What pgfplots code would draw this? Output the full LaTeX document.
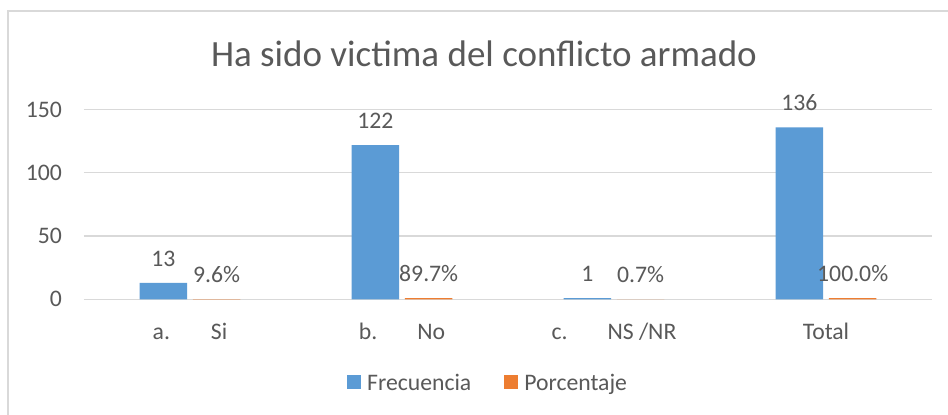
\documentclass[border=0pt]{standalone}
\usepackage{fontspec}
\setmainfont{Carlito}
\usepackage{pgfplots}
\pgfplotsset{compat=1.18}
\definecolor{txt}{HTML}{595959}
\definecolor{gridc}{HTML}{D9D9D9}
\definecolor{blu}{HTML}{5B9BD5}
\definecolor{ora}{HTML}{ED7D31}
\begin{document}
\fontsize{23.7pt}{28pt}\selectfont
\begin{tikzpicture}
\useasboundingbox (0,0) rectangle (948pt,415pt);
\fill[white] (0,0) rectangle (948pt,415pt);
\draw[gridc, line width=1.3pt] (8pt,0pt) -- (8pt,404pt) -- (948pt,404pt);
\node[anchor=base, text=txt, font=\fontsize{37pt}{44pt}\selectfont, inner sep=0pt] at (484pt,348.3pt) {Ha sido victima del conflicto armado};
\begin{axis}[
  at={(84pt,115.7pt)}, anchor=south west,
  scale only axis, width=848pt, height=189.7pt,
  ymin=0, ymax=150, ytick={0,50,100,150},
  xmin=-0.5, xmax=3.5, xtick={0,1,2,3},
  xticklabels={a.\hspace{41pt}Si, b.\hspace{40pt}No, c.\hspace{40pt}NS /NR, Total},
  /pgf/number format/assume math mode=true,
  axis line style={draw=none},
  major tick length=0pt,
  ymajorgrids, grid style={gridc, line width=1.3pt},
  yticklabel style={text=txt, inner sep=0pt, anchor=east, xshift=-22pt},
  xticklabel style={text=txt, inner sep=0pt, anchor=base, yshift=-40pt},
  ybar, bar width=47.5pt,
  point meta=explicit symbolic,
  nodes near coords,
  every node near coord/.append style={text=txt, anchor=base, inner sep=0pt, yshift=16.6pt},
  legend columns=2,
  legend style={at={(axis description cs:0.3101,-0.4465)}, anchor=west, draw=none, fill=none, inner sep=0pt,
    nodes={inner sep=0pt, text=txt},
    /tikz/every odd column/.style={column sep=6pt},
    /tikz/every even column/.style={column sep=33pt}},
  legend image code/.code={\fill[#1] (0pt,-5pt) rectangle (14pt,9pt);},
]
\addplot[fill=blu, draw=none, bar shift=-26.7pt] coordinates {(0,13) [13] (1,122) [122] (2,1) [1] (3,136) [136]};
\addlegendentry{Frecuencia}
\addplot[fill=ora, draw=none, bar shift=26.7pt] coordinates {(0,0.096) [9.6\%] (1,0.897) [89.7\%] (2,0.007) [0.7\%] (3,1.0) [100.0\%]};
\addlegendentry{Porcentaje}
\end{axis}
\end{tikzpicture}
\end{document}
